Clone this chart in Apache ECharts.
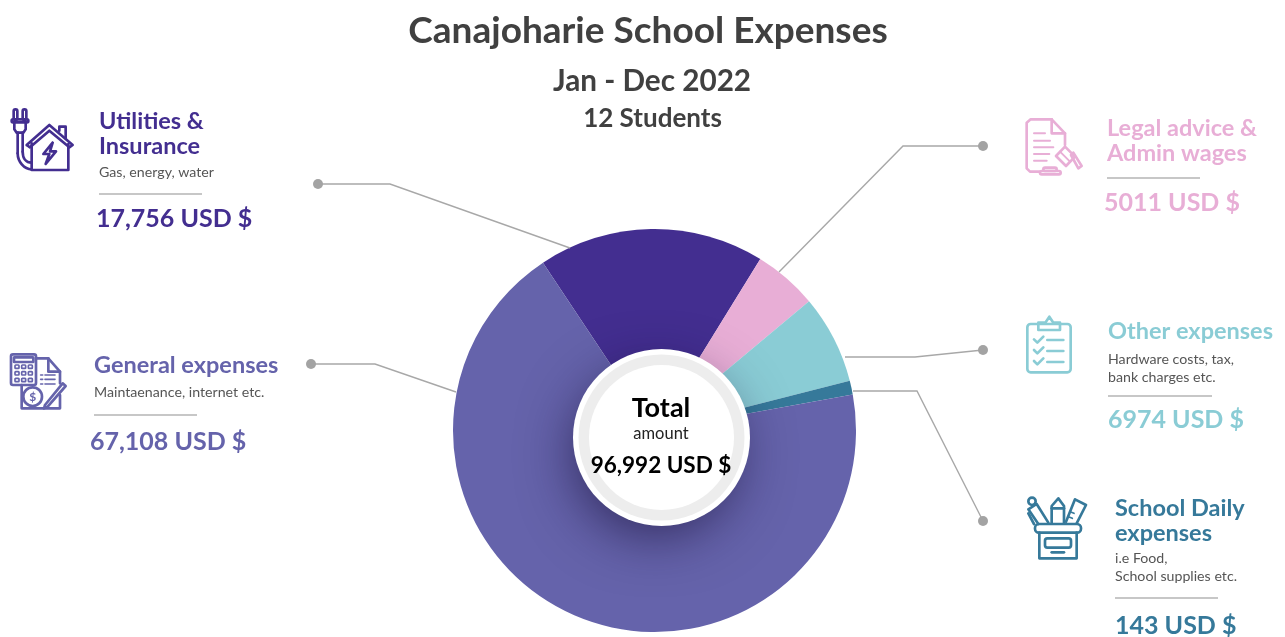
<!DOCTYPE html>
<html><head><meta charset="utf-8">
<style>html,body{margin:0;padding:0;background:#fff}#c{width:1285px;height:637px}</style>
<script src="https://cdn.jsdelivr.net/npm/echarts@6/dist/echarts.min.js"></script>
</head><body><div id="c"></div>
<script>
const categories = ['Utilities & Insurance','Legal advice & Admin wages','Other expenses','School Daily expenses','General expenses'];
const values = [17756, 5011, 6974, 143, 67108];
const amountLabels = ['17,756 USD $','5011 USD $','6974 USD $','143 USD $','67,108 USD $'];
const headingLines = [['Utilities &','Insurance'],['Legal advice &','Admin wages'],['Other expenses'],['School Daily','expenses'],['General expenses']];
const noteLines = [['Gas, energy, water'],[],['Hardware costs, tax,','bank charges etc.'],['i.e Food,','School supplies etc.'],['Maintaenance, internet etc.']];
const titleLines = ['Canajoharie School Expenses','Jan - Dec 2022','12 Students'];
const centerLines = ['Total','amount','96,992 USD $'];

const FONT = 'Lato, "Open Sans", sans-serif';
const colors = ['#432e90','#e8aed6','#8accd5','#36799a','#6563ab'];
const layout = [
  {x:99, hy:[121,146], ny:[172], dx:99, dw:103, dy:194, ax:96, ay:219, dot:[[318,184],[390,184],[570,248]]},
  {x:1107,hy:[128,153], ny:[], dx:1107,dw:93, dy:178, ax:1104,ay:203, dot:[[983,146],[903,146],[779,272]]},
  {x:1108,hy:[331], ny:[359,377], dx:1108,dw:104,dy:396, ax:1108,ay:420, dot:[[983,350],[915,357],[845,357]]},
  {x:1115,hy:[508,533], ny:[558,576], dx:1115,dw:103,dy:598, ax:1115,ay:626, dot:[[983,521],[917,391],[853,391]]},
  {x:94, hy:[365], ny:[392], dx:94, dw:103, dy:415, ax:90, ay:442, dot:[[311,364],[375,364],[456,392]]}
];

function txt(t,x,y,size,weight,fill,align){
  return {type:'text',z:20,x:x,y:y,silent:true,style:{text:t,font:weight+' '+size+'px '+FONT,fill:fill,textAlign:align||'left',textVerticalAlign:'middle'}};
}
const g = [];
categories.forEach((c,i)=>{
  const L = layout[i], col = colors[i];
  headingLines[i].forEach((t,k)=>g.push(txt(t,L.x,L.hy[k],23.5,700,col)));
  noteLines[i].forEach((t,k)=>g.push(txt(t,L.x,L.ny[k],14.2,400,'#555')));
  g.push({type:'line',z:20,silent:true,shape:{x1:L.dx,y1:L.dy,x2:L.dx+L.dw,y2:L.dy},style:{stroke:'#8f8f8f',lineWidth:1}});
  g.push(txt(amountLabels[i],L.ax,L.ay,25,700,col));
  g.push({type:'polyline',z:5,silent:true,shape:{points:L.dot},style:{stroke:'#a8a8a8',lineWidth:1.4,fill:null}});
  g.push({type:'circle',z:5,silent:true,shape:{cx:L.dot[0][0],cy:L.dot[0][1],r:5},style:{fill:'#a3a3a3'}});
});

// hub
const hub = [661.5,437.5];
g.push({type:'circle',z:10,silent:true,shape:{cx:hub[0],cy:hub[1],r:80},style:{fill:'#fff',shadowBlur:55,shadowColor:'rgba(20,12,50,0.68)',shadowOffsetX:-6,shadowOffsetY:16}});
g.push({type:'circle',z:11,silent:true,shape:{cx:hub[0],cy:hub[1],r:88.5},style:{fill:'#fff'}});
g.push({type:'circle',z:12,silent:true,shape:{cx:hub[0],cy:hub[1],r:83},style:{fill:'#ededed'}});
g.push({type:'circle',z:13,silent:true,shape:{cx:hub[0],cy:hub[1],r:72.5},style:{fill:'#fff'}});
g.push(txt(centerLines[0],661,408,27,700,'#000','center'));
g.push(txt(centerLines[1],661,434,16.5,400,'#222','center'));
g.push(txt(centerLines[2],661,465.5,22.5,700,'#000','center'));

// icons, drawn in 3x units inside a group
function icon(ox,oy,col,items){
  const kids = items.map(it=>{
    const base = {z:20,silent:true,style:{stroke:col,lineWidth:it.w||8,fill:null,lineJoin:'round',lineCap:'round'}};
    if(it.p) return Object.assign(base,{type:'polyline',shape:{points:it.p}});
    if(it.r) return Object.assign(base,{type:'rect',shape:{x:it.r[0],y:it.r[1],width:it.r[2],height:it.r[3],r:it.r[4]||0}});
    if(it.c) return Object.assign(base,{type:'circle',shape:{cx:it.c[0],cy:it.c[1],r:it.c[2]}});
    if(it.b) return Object.assign(base,{type:'bezierCurve',shape:{x1:it.b[0],y1:it.b[1],cpx1:it.b[2],cpy1:it.b[3],cpx2:it.b[4],cpy2:it.b[5],x2:it.b[6],y2:it.b[7]}});
    if(it.t) return {type:'text',z:20,silent:true,x:it.t[1],y:it.t[2],style:{text:it.t[0],font:'700 '+it.t[3]+'px '+FONT,fill:col,textAlign:'center',textVerticalAlign:'middle'}};
  });
  g.push({type:'group',x:ox,y:oy,scaleX:1/3,scaleY:1/3,silent:true,children:kids});
}
icon(0,90,colors[0],[
  {r:[41,58,11,32,5]},{r:[68,58,11,32,5]},{r:[35,88,50,9,4]},
  {p:[[43,97],[43,118],[50,128],[70,128],[77,118],[77,97]]},
  {p:[[53,128],[53,190]]},{b:[53,190,53,215,72,238,95,238]},
  {p:[[68,128],[68,185]]},{b:[68,185,68,205,78,218,95,218]},
  {p:[[80,165],[148,105],[218,165],[208,172],[148,122],[90,172],[80,165]]},
  {p:[[95,160],[95,240],[205,240],[205,162]]},
  {p:[[178,122],[178,110],[197,110],[197,145]]},
  {p:[[158,158],[130,192],[148,192],[137,222],[168,184],[150,184],[158,158]]}
]);
icon(1010,100,colors[1],[
  {p:[[125,58],[62,58],[50,68],[50,205],[60,215],[88,215]]},
  {p:[[125,58],[165,100],[165,135]]},{p:[[125,58],[125,100],[165,100]]},
  {p:[[72,100],[105,100]],w:6},{p:[[120,122],[72,122]],w:6},{p:[[72,142],[130,142]],w:6},{p:[[72,162],[118,162]],w:6},{p:[[72,182],[110,182]],w:6},
  {p:[[138,168],[165,140],[195,170],[168,198],[138,168]]},
  {p:[[150,155],[180,185]],w:6},
  {p:[[183,165],[205,205],[215,198],[190,158]]},
  {r:[100,203,40,10,5]},{r:[90,213,62,10,5]}
]);
icon(1010,300,colors[2],[
  {r:[52,72,130,145,10]},
  {p:[[85,90],[85,68],[106,68],[118,50],[130,68],[150,68],[150,90],[85,90]]},
  {p:[[72,118],[82,128],[100,110]]},{p:[[112,120],[160,120]]},
  {p:[[72,150],[82,160],[100,142]]},{p:[[112,153],[160,153]]},
  {p:[[72,183],[82,193],[100,175]]},{p:[[112,186],[160,186]]}
]);
icon(1010,480,colors[3],[
  {r:[75,132,138,26,12]},
  {p:[[88,158],[88,235],[200,235],[200,158]]},
  {r:[105,175,78,28,7]},{p:[[125,217],[162,217]]},
  {p:[[125,130],[125,78],[145,55],[162,78],[162,130]]},{p:[[125,85],[162,85]]},
  {p:[[168,125],[195,58],[228,75],[200,130]]},{p:[[180,95],[192,100]],w:5},{p:[[175,110],[187,115]],w:5},
  {p:[[115,128],[80,72],[55,88],[85,132]]},{c:[66,64,11]},{p:[[55,100],[72,132]]}
]);
icon(0,340,colors[4],[
  {r:[33,43,75,92,6]},{r:[42,52,58,14,1]},
  {r:[45,75,12,10,2],w:5},{r:[65,75,12,10,2],w:5},{r:[85,75,12,10,2],w:5},
  {r:[45,95,12,10,2],w:5},{r:[65,95,12,10,2],w:5},{r:[85,95,12,10,2],w:5},
  {r:[45,115,12,10,2],w:5},{r:[65,115,12,10,2],w:5},{r:[85,115,12,10,2],w:5},
  {p:[[108,55],[145,55],[180,95],[180,130]]},{p:[[145,55],[145,95],[180,95]]},
  {p:[[180,165],[180,205],[65,205],[65,135]]},
  {p:[[122,105],[128,105]],w:5},{p:[[135,105],[165,105]],w:5},
  {p:[[122,118],[128,118]],w:5},{p:[[135,118],[165,118]],w:5},
  {p:[[122,132],[128,132]],w:5},{p:[[135,132],[165,132]],w:5},
  {c:[98,170,28]},{t:['$',98,170,36]},
  {p:[[135,195],[188,130],[197,138],[143,200],[132,205],[135,195]]}
]);

const chart = echarts.init(document.getElementById('c'));
chart.setOption({
  animation:false,
  backgroundColor:'#fff',
  title:[
    {text:titleLines[0],left:643,top:26,textAlign:'center',textVerticalAlign:'middle',textStyle:{fontFamily:FONT,fontWeight:700,fontSize:37,color:'#404040'}},
    {text:titleLines[1],left:647,top:76,textAlign:'center',textVerticalAlign:'middle',textStyle:{fontFamily:FONT,fontWeight:700,fontSize:29.7,color:'#404040'}},
    {text:titleLines[2],left:647.5,top:114,textAlign:'center',textVerticalAlign:'middle',textStyle:{fontFamily:FONT,fontWeight:700,fontSize:26,color:'#404040'}}
  ],
  series:[{
    type:'pie',
    center:[654.5,430.5],
    radius:[0,201.5],
    startAngle:123.6,
    clockwise:true,
    minAngle:4,
    silent:true,
    avoidLabelOverlap:false,
    label:{show:false},
    labelLine:{show:false},
    itemStyle:{borderWidth:0},
    data:categories.map((c,i)=>({name:c,value:values[i],itemStyle:{color:colors[i]}}))
  }],
  graphic:{elements:g}
});
</script></body></html>
